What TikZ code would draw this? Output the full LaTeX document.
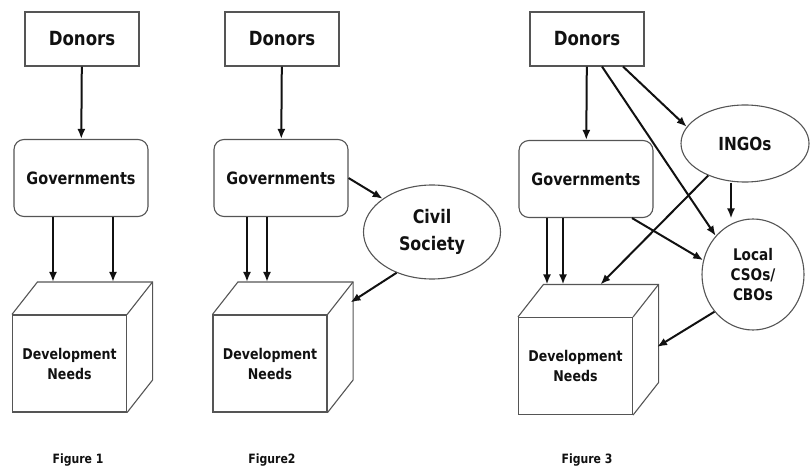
\documentclass[tikz,border=0pt]{standalone}
\usepackage{fontspec}
\setmainfont{DejaVu Sans}[FakeStretch=0.85]
\usetikzlibrary{arrows.meta,positioning,shapes.geometric}
\definecolor{fgInk}  {HTML}{111111}
\definecolor{fgRule} {HTML}{555555}

\tikzset{
  boxline/.style={draw=fgRule,line width=1.1pt},
  donorbox/.style={boxline,rectangle,minimum width=114pt,minimum height=54pt,
    inner sep=0pt,font=\bfseries\fontsize{19.5}{22}\selectfont},
  govbox/.style={boxline,rectangle,rounded corners=10pt,minimum width=134pt,
    minimum height=77pt,inner sep=0pt,font=\bfseries\fontsize{17}{20}\selectfont},
  needsbox/.style={boxline,rectangle,minimum width=114pt,minimum height=97pt,
    inner sep=0pt,align=center,font=\bfseries\fontsize{14.8}{20}\selectfont},
  civbox/.style={boxline,ellipse,inner sep=0pt,align=center},
  figlabel/.style={font=\bfseries\fontsize{12.8}{15}\selectfont},
  flow/.style={draw=fgInk,line width=2pt,-{Latex[length=10pt,width=8pt]}},
}

% front face as a node, top and side faces drawn behind it
\newcommand\needscube[2]{%
  \node[needsbox] (#1) at (#2) {Development\\Needs};
  \draw[boxline] (#1.north west) -- ([shift={(25.5,-32.5)}]#1.north west)
    coordinate (#1back)
    -- ([shift={(25.5,-32.5)}]#1.north east)
    -- ([shift={(25.5,-32.5)}]#1.south east) -- (#1.south east);
  \draw[boxline] (#1.north east) -- ([shift={(25.5,-32.5)}]#1.north east);
}

\begin{document}
\begin{tikzpicture}[x=1pt,y=-1pt,text=fgInk]
\useasboundingbox (0,0) rectangle (810,470);

% Figure 1
\node[donorbox] (don1) at (82,39) {Donors};
\node[govbox] (gov1) at (81,178) {Governments};
\needscube{dev1}{69.5,363.5}
\node[figlabel] (lab1) at (78,460) {Figure 1};
\draw[flow] (don1) -- (gov1);
\draw[flow] ([xshift=-28pt]gov1.south) -- ([xshift=-28pt]gov1.south |- dev1back);
\draw[flow] ([xshift=32pt]gov1.south) -- ([xshift=32pt]gov1.south |- dev1back);

% Figure 2
\node[donorbox] (don2) at (282,39) {Donors};
\node[govbox] (gov2) at (281,178) {Governments};
\node[civbox,minimum width=137pt,minimum height=94pt,
      font=\bfseries\fontsize{18.7}{27}\selectfont] (civ) at (432,232) {Civil\\Society};
\needscube{dev2}{270,363.5}
\node[figlabel] (lab2) at (272,460) {Figure2};
\draw[flow] (don2) -- (gov2);
\draw[flow] ([xshift=-34pt]gov2.south) -- ([xshift=-34pt]gov2.south |- dev2back);
\draw[flow] ([xshift=-14pt]gov2.south) -- ([xshift=-14pt]gov2.south |- dev2back);
\draw[flow] (gov2.east) -- (civ.146);
\draw[flow] (civ.229) -- ([shift={(23,-12)}]dev2.north east);

% Figure 3
\node[donorbox] (don3) at (587,39) {Donors};
\node[govbox] (gov3) at (586,179) {Governments};
\node[civbox,minimum width=128pt,minimum height=77pt,
      font=\bfseries\fontsize{18}{21}\selectfont] (ingo) at (745,143.5) {INGOs};
\node[civbox,minimum width=102pt,minimum height=111pt,
      font=\bfseries\fontsize{16}{20}\selectfont] (cso) at (753,274.5) {Local\\CSOs/\\CBOs};
\needscube{dev3}{575.5,366}
\node[figlabel] (lab3) at (587,460) {Figure 3};
\draw[flow] (don3) -- (gov3);
\draw[flow] ([xshift=15pt]don3.south) -- (cso.134);
\draw[flow] ([xshift=36pt]don3.south) -- (ingo.164);
\draw[flow] ([xshift=-14pt]ingo.south) -- ([xshift=-14pt]ingo.south |- cso.north);
\draw[flow] (ingo.221) -- ([xshift=57pt]dev3back);
\draw[flow] ([xshift=46pt]gov3.south) -- (cso.164);
\draw[flow] (cso.224) -- ([shift={(24,30)}]dev3.north east);
\draw[flow] ([xshift=-39pt]gov3.south) -- ([xshift=-39pt]gov3.south |- dev3back);
\draw[flow] ([xshift=-23pt]gov3.south) -- ([xshift=-23pt]gov3.south |- dev3back);
\end{tikzpicture}
\end{document}
